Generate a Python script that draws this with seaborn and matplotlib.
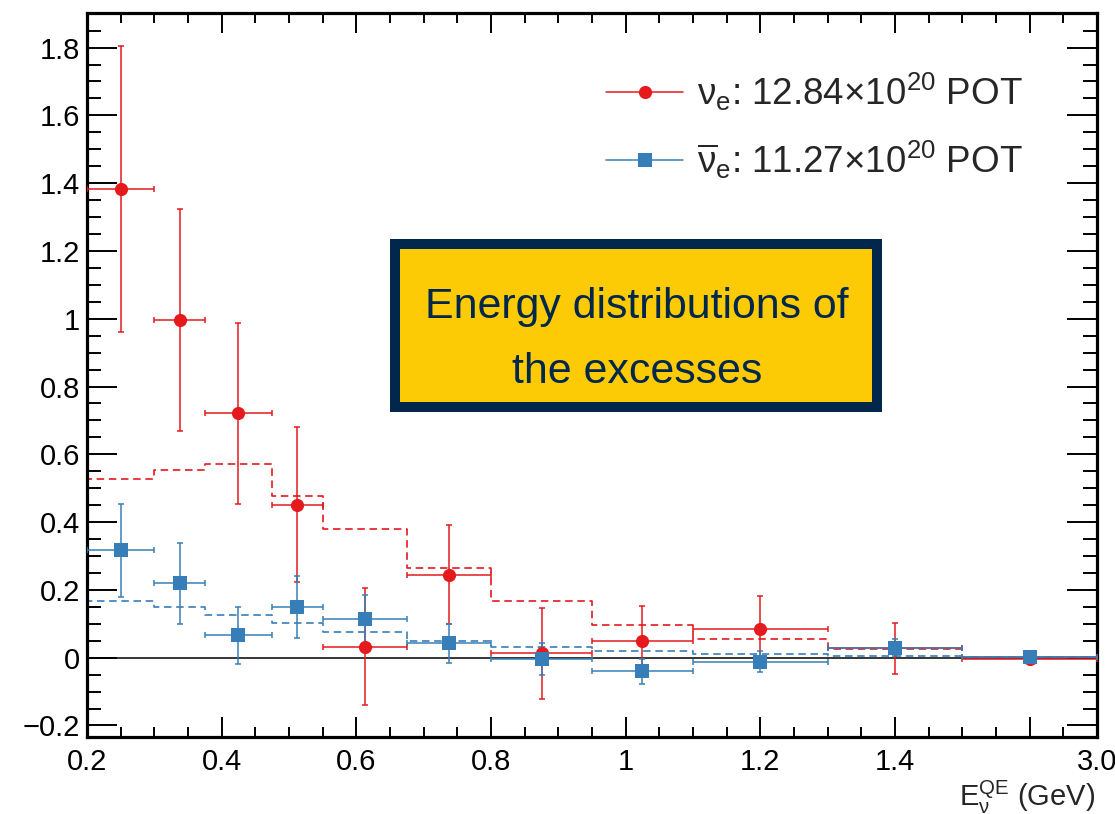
import numpy as np
import pandas as pd
import seaborn as sns
import matplotlib.pyplot as plt
from matplotlib.lines import Line2D
from matplotlib.patches import Rectangle
from matplotlib.ticker import MultipleLocator

# Reconstructed-energy bins (GeV); the overflow bin 1.5-3.0 GeV is drawn compressed to 1.5-1.7
bin_edges = [0.2, 0.3, 0.375, 0.475, 0.55, 0.675, 0.8, 0.95, 1.1, 1.3, 1.5, 1.7]

# Excess events per MeV, neutrino mode
nue_excess = [1.383, 0.996, 0.721, 0.451, 0.032, 0.245, 0.013, 0.048, 0.085, 0.028, -0.005]
nue_err = [0.422, 0.327, 0.267, 0.229, 0.173, 0.145, 0.135, 0.105, 0.096, 0.075, 0.010]
nue_pred = [0.528, 0.553, 0.571, 0.478, 0.379, 0.266, 0.167, 0.0965, 0.054, 0.025, 0.003]

# Excess events per MeV, antineutrino mode
nuebar_excess = [0.317, 0.219, 0.066, 0.150, 0.114, 0.042, -0.005, -0.040, -0.012, 0.0295, 0.001]
nuebar_err = [0.137, 0.120, 0.085, 0.092, 0.070, 0.058, 0.047, 0.037, 0.031, 0.025, 0.008]
nuebar_pred = [0.168, 0.150, 0.126, 0.101, 0.075, 0.050, 0.0316, 0.020, 0.011, 0.006, 0.001]

x_tick_pos = [0.2, 0.4, 0.6, 0.8, 1.0, 1.2, 1.4, 1.6, 1.7]
x_tick_labels = ["0.2", "0.4", "0.6", "0.8", "1", "1.2", "1.4", "", "3.0"]
y_tick_pos = [-0.2, 0.0, 0.2, 0.4, 0.6, 0.8, 1.0, 1.2, 1.4, 1.6, 1.8]
y_tick_labels = ["\u22120.2", "0", "0.2", "0.4", "0.6", "0.8", "1", "1.2", "1.4", "1.6", "1.8"]

legend_labels = [r"$\mathrm{\nu}_{\rm e}$: 12.84$\times$10$^{20}$ POT",
                 r"$\overline{\mathrm{\nu}}_{\rm e}$: 11.27$\times$10$^{20}$ POT"]
box_lines = ["Energy distributions of", "the excesses"]
x_label = r"E$_{\mathrm{\nu}}^{\rm QE}$ (GeV)"

RED = "#e41a1c"
BLUE = "#377eb8"
NAVY = "#01274c"
GOLD = "#fccb05"

sns.set_theme(style="ticks")
plt.rcParams["font.family"] = ["Liberation Sans", "DejaVu Sans"]
plt.rcParams["mathtext.fontset"] = "custom"
plt.rcParams["mathtext.rm"] = "Liberation Sans"
plt.rcParams["mathtext.it"] = "Liberation Sans:italic"
plt.rcParams["mathtext.bf"] = "Liberation Sans:bold"

edges = np.array(bin_edges)
centers = 0.5 * (edges[:-1] + edges[1:])
half = 0.5 * np.diff(edges)

df = pd.DataFrame({
    "center": np.concatenate([centers, centers]),
    "excess": np.concatenate([nue_excess, nuebar_excess]),
    "err": np.concatenate([nue_err, nuebar_err]),
    "mode": ["nue"] * len(centers) + ["nuebar"] * len(centers),
})

fig = plt.figure(figsize=(11.15, 8.14), dpi=100)
ax = fig.add_axes([87 / 1115, 1 - 737 / 814, (1097 - 87) / 1115, (737 - 13) / 814])

ylo, yhi = -0.234, 1.902
ax.set_xlim(edges[0], edges[-1])
ax.set_ylim(ylo, yhi)

# zero line
ax.axhline(0, color="black", lw=1.1, zorder=1)

# dashed prediction histograms, starting from the frame floor at the first edge
for pred, col in [(nue_pred, RED), (nuebar_pred, BLUE)]:
    xs = np.concatenate([[edges[0]], edges])
    ys = np.concatenate([[ylo], pred, [pred[-1]]])
    ax.step(xs, ys, where="post", color=col, lw=1.2, ls=(0, (4.5, 2.8)), zorder=2)

# error bars and markers
for mode, col in [("nue", RED), ("nuebar", BLUE)]:
    sub = df[df["mode"] == mode]
    ax.errorbar(sub["center"], sub["excess"], xerr=half, yerr=sub["err"],
                fmt="none", ecolor=col, elinewidth=1.1, capsize=2.3, capthick=1.1,
                zorder=3)
    sns.scatterplot(data=sub, x="center", y="excess", ax=ax, color=col,
                    marker="o" if mode == "nue" else "s", s=90, linewidth=0,
                    zorder=4, legend=False)

ax.set_xlabel("")
ax.set_ylabel("")

# ticks
ax.set_xticks(x_tick_pos)
ax.set_xticklabels(x_tick_labels)
ax.set_yticks(y_tick_pos)
ax.set_yticklabels(y_tick_labels)
ax.xaxis.set_minor_locator(MultipleLocator(0.05))
ax.yaxis.set_minor_locator(MultipleLocator(0.05))
ax.tick_params(axis="both", which="both", direction="in", top=True, right=True,
               width=1.4, color="black", labelsize=21, labelcolor="black")
ax.tick_params(axis="x", which="major", length=14.5, pad=8)
ax.tick_params(axis="x", which="minor", length=7.2)
ax.tick_params(axis="y", which="major", length=21.5, pad=5)
ax.tick_params(axis="y", which="minor", length=10)
for sp in ax.spines.values():
    sp.set_visible(True)
    sp.set_linewidth(2.3)
    sp.set_color("black")

fig.text(1095 / 1115, 1 - 797 / 814, x_label, ha="right", va="center", fontsize=21)

# legend
handles = [
    Line2D([], [], color=RED, lw=1.1, marker="o", markersize=9.5, markeredgewidth=0),
    Line2D([], [], color=BLUE, lw=1.1, marker="s", markersize=9.5, markeredgewidth=0),
]
fig.legend(handles=handles, labels=legend_labels, loc="upper left",
           bbox_to_anchor=(606 / 1115, 1 - 71 / 814), frameon=False,
           fontsize=26.5, handlelength=2.1, handletextpad=0.36, labelspacing=0.7,
           borderpad=0, borderaxespad=0)

# highlighted caption box
fig.patches.append(Rectangle((395 / 1115, 1 - 407 / 814), (877 - 395) / 1115, (407 - 244) / 814,
                             transform=fig.transFigure, facecolor=GOLD, edgecolor=NAVY,
                             linewidth=7.2, zorder=5))
caption = [fig.text(637 / 1115, 1 - base / 814, line, ha="center", va="baseline",
                    fontsize=36, color=NAVY, zorder=6)
           for line, base in zip(box_lines, [318, 383])]
# shrink the caption so the first line spans the inner width of the box
renderer = fig.canvas.get_renderer()
w = caption[0].get_window_extent(renderer).width
scale = 425.0 / w
for t in caption:
    t.set_fontsize(36 * scale)

fig.savefig("out.png", dpi=100)
